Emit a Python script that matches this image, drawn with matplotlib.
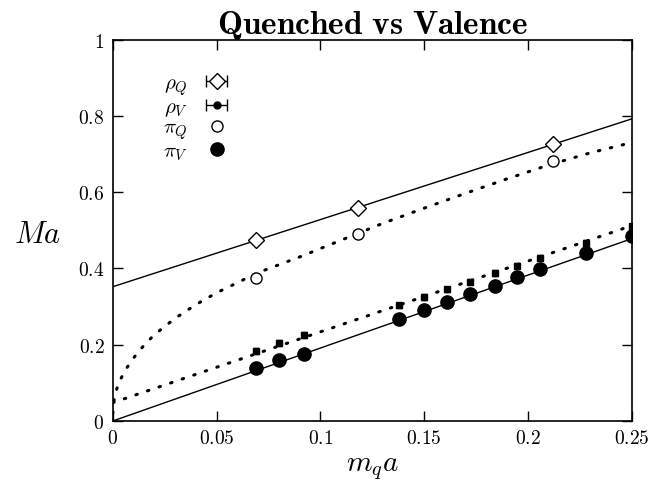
import numpy as np
import matplotlib
matplotlib.use("Agg")
import matplotlib.pyplot as plt

plt.rcParams['mathtext.fontset'] = 'cm'
plt.rcParams['font.family'] = 'serif'
plt.rcParams['font.serif'] = ['DejaVu Serif']

# quenched data
mq_q = [0.069, 0.118, 0.212]
rho_q = [0.475, 0.558, 0.725]
pi_q = [0.375, 0.490, 0.682]

# valence data
mq_v = [0.069, 0.080, 0.092, 0.138, 0.150, 0.161, 0.172, 0.184, 0.195, 0.206, 0.228, 0.250]
rho_v = [0.184, 0.204, 0.225, 0.303, 0.325, 0.345, 0.365, 0.388, 0.407, 0.428, 0.468, 0.510]
rho_v_err = [0.008, 0.008, 0.008, 0.007, 0.007, 0.007, 0.007, 0.007, 0.007, 0.007, 0.007, 0.007]
pi_v = [0.140, 0.161, 0.176, 0.268, 0.290, 0.311, 0.333, 0.355, 0.377, 0.398, 0.440, 0.484]

# fit lines
fit_x = [0.0, 0.25]
rho_q_fit = [0.352, 0.792]
rho_v_fit = [0.048, 0.512]
pi_v_fit = [0.0, 0.478]
pi_q_fit_x = [0.0, 0.0005, 0.001, 0.002, 0.004, 0.007, 0.01, 0.015, 0.02, 0.03, 0.04,
              0.05, 0.07, 0.09, 0.11, 0.13, 0.15, 0.17, 0.19, 0.21, 0.23, 0.25]
pi_q_fit = [0.02, 0.050, 0.065, 0.085, 0.112, 0.141, 0.165, 0.198, 0.226, 0.269, 0.305,
            0.336, 0.389, 0.430, 0.474, 0.518, 0.558, 0.597, 0.635, 0.671, 0.703, 0.730]

fig = plt.figure(figsize=(6.67, 4.89), dpi=100)
ax = fig.add_axes([0.169, 0.137, 0.778, 0.780])

ax.plot(fit_x, rho_q_fit, color='black', lw=1.0)
ax.plot(fit_x, pi_v_fit, color='black', lw=1.0)
ax.plot(fit_x, rho_v_fit, color='black', lw=2.2, ls=(0, (0.5, 3.5)), dash_capstyle='round')
ax.plot(pi_q_fit_x, pi_q_fit, color='black', lw=2.2, ls=(0, (0.5, 3.5)), dash_capstyle='round')

ax.plot(mq_q, rho_q, 'D', mfc='white', mec='black', ms=8, mew=1.0)
ax.plot(mq_q, pi_q, 'o', mfc='white', mec='black', ms=8, mew=1.0)
ax.errorbar(mq_v, rho_v, yerr=rho_v_err, fmt='s', color='black', ms=4.5, capsize=2.5, elinewidth=1)
ax.plot(mq_v, pi_v, 'o', color='black', ms=9.5)

# legend handles (drawn outside the visible range)
h1 = ax.errorbar([-1], [-1], xerr=[0.01], fmt='D', mfc='white', mec='black', ecolor='black',
                 ms=8, capsize=4, elinewidth=1)
h2 = ax.errorbar([-1], [-1], xerr=[0.01], fmt='o', color='black', ms=5, capsize=4, elinewidth=1)
h3, = ax.plot([-1], [-1], 'o', mfc='white', mec='black', ms=8)
h4, = ax.plot([-1], [-1], 'o', color='black', ms=9.5)
leg = ax.legend([h1, h2, h3, h4], [r'$\rho_Q$', r'$\rho_V$', r'$\pi_Q$', r'$\pi_V$'],
                loc='upper left', bbox_to_anchor=(0.06, 0.96), frameon=False,
                markerfirst=False, handlelength=2.0, handletextpad=0.4,
                labelspacing=0.0, fontsize=15)

ax.set_xlim(0, 0.25)
ax.set_ylim(0, 1)
xt = [0, 0.05, 0.1, 0.15, 0.2, 0.25]
yt = [0, 0.2, 0.4, 0.6, 0.8, 1]
ax.set_xticks(xt)
ax.set_xticklabels(['$%g$' % v for v in xt], fontsize=14)
ax.set_yticks(yt)
ax.set_yticklabels(['$%g$' % v for v in yt], fontsize=14)
ax.tick_params(direction='in', top=True, right=True, length=7, width=1, pad=6)
for s in ax.spines.values():
    s.set_linewidth(1.2)

ax.set_title(r'$\mathbf{Quenched\ vs\ Valence}$', fontsize=24, pad=5)
ax.set_xlabel(r'$m_q a$', fontsize=21, labelpad=4)
ax.set_ylabel(r'$Ma$', fontsize=22, rotation=0)
ax.yaxis.set_label_coords(-0.145, 0.45)

fig.savefig('out.png', dpi=100)
